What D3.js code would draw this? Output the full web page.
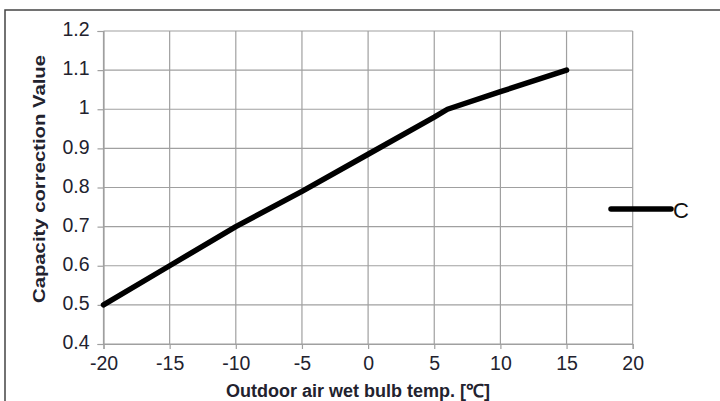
<!DOCTYPE html>
<html><head><meta charset="utf-8">
<script src="https://cdn.jsdelivr.net/npm/d3@7"></script>
<style>body{margin:0;background:#fff}svg{display:block}</style>
</head><body>
<svg id="c" width="720" height="401"></svg>
<script>
const temps = [-20, -15, -10, -5, 0, 5, 6, 10, 15];
const seriesC = [0.5, 0.6, 0.7, 0.79, 0.885, 0.98, 1.0, 1.045, 1.1];
const xTicks = [-20, -15, -10, -5, 0, 5, 10, 15, 20];
const yTicks = [0.4, 0.5, 0.6, 0.7, 0.8, 0.9, 1.0, 1.1, 1.2];
const seriesName = "C";
const xTitle = "Outdoor air wet bulb temp. [℃]";
const yTitle = "Capacity correction Value";

const svg = d3.select("#c");
const L = 103.5, R = 632.7, T = 31, B = 344;
const x = d3.scaleLinear().domain([-20, 20]).range([L, R]);
const y = d3.scaleLinear().domain([0.4, 1.2]).range([B, T]);
const font = "Liberation Sans, Arial, sans-serif";
const txt = "#22222e";

// outer frame
svg.append("rect").attr("x", 5).attr("y", 10).attr("width", 760).attr("height", 420)
  .attr("fill", "none").attr("stroke", "#444").attr("stroke-width", 1.5);

// grid
const g = svg.append("g");
g.selectAll(".gx").data(xTicks).join("line")
  .attr("x1", d => x(d)).attr("x2", d => x(d)).attr("y1", T).attr("y2", B)
  .attr("stroke", "#a0a0a0").attr("stroke-width", 1.2);
g.selectAll(".gy").data(yTicks).join("line")
  .attr("x1", L).attr("x2", R).attr("y1", d => y(d)).attr("y2", d => y(d))
  .attr("stroke", "#a0a0a0").attr("stroke-width", 1.2);

// axes
const xAxis = d3.axisBottom(x).tickValues(xTicks).tickSize(5).tickPadding(7).tickFormat(d => String(d));
const yAxis = d3.axisLeft(y).tickValues(yTicks).tickSize(6).tickPadding(8).tickFormat(d => String(+d.toFixed(1)));
const gx = svg.append("g").attr("transform", `translate(0,${B})`).call(xAxis);
const gy = svg.append("g").attr("transform", `translate(${L},0)`).call(yAxis);
[gx, gy].forEach(a => {
  a.attr("font-size", null).attr("font-family", null);
  a.select(".domain").attr("stroke", "#a0a0a0").attr("stroke-width", 1.2);
  a.selectAll(".tick line").attr("stroke", "#a0a0a0").attr("stroke-width", 1.2);
  a.selectAll(".tick text").attr("fill", txt).style("font-size", "19.5px").style("font-family", font);
});
gy.selectAll(".tick text").attr("dy", "0.24em");

// titles
svg.append("text").attr("x", (L + R) / 2 - 10).attr("y", 397).attr("text-anchor", "middle")
  .style("font-family", font).style("font-weight", "bold").style("font-size", "18px").attr("fill", txt)
  .text(xTitle);
svg.append("text").attr("transform", `translate(45,179) rotate(-90)`).attr("text-anchor", "middle")
  .attr("textLength", 248).attr("lengthAdjust", "spacingAndGlyphs")
  .style("font-family", font).style("font-weight", "bold").style("font-size", "16.5px").attr("fill", txt)
  .text(yTitle);

// series line
const line = d3.line().x((d, i) => x(temps[i])).y(d => y(d));
svg.append("path").datum(seriesC).attr("d", line).attr("fill", "none")
  .attr("stroke", "#000").attr("stroke-width", 5.5).attr("stroke-linejoin", "round").attr("stroke-linecap", "round");

// legend
svg.append("line").attr("x1", 611).attr("x2", 671).attr("y1", 209).attr("y2", 209)
  .attr("stroke", "#000").attr("stroke-width", 5.5).attr("stroke-linecap", "round");
svg.append("text").attr("x", 673).attr("y", 218).style("font-family", font).style("font-size", "22px")
  .attr("fill", "#111").text(seriesName);
</script>
</body></html>
